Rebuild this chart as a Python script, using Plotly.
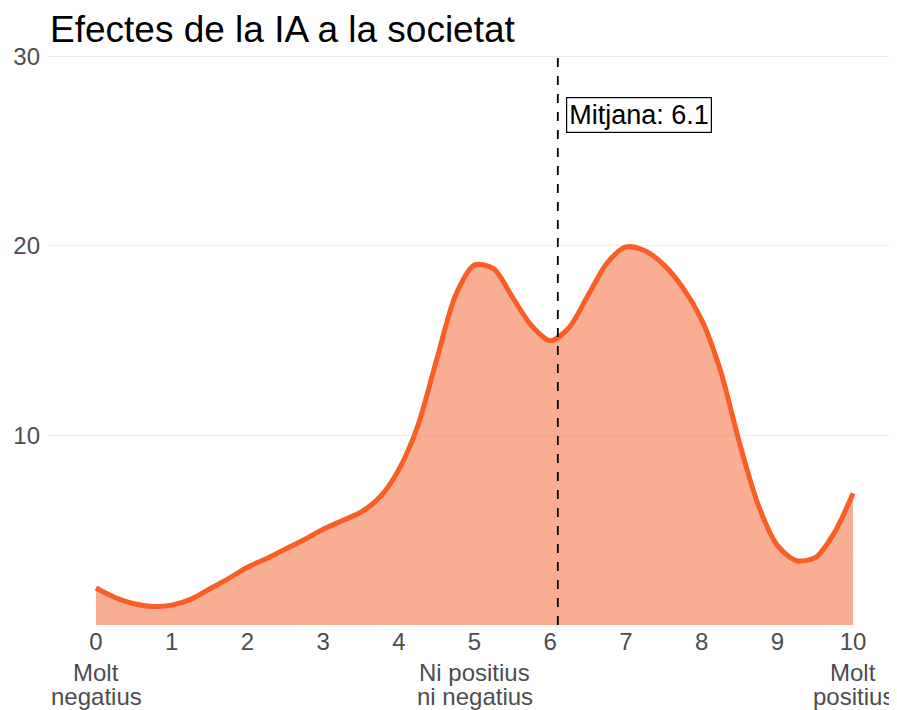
import plotly.graph_objects as go

title = "Efectes de la IA a la societat"
x_vals = [0, 0.25, 0.5, 0.75, 1, 1.25, 1.5, 1.75, 2, 2.25, 2.5, 2.75, 3, 3.25, 3.5, 3.75,
          4, 4.25, 4.5, 4.75, 5, 5.25, 5.5, 5.75, 6, 6.25, 6.5, 6.75, 7, 7.25, 7.5, 7.75,
          8, 8.25, 8.5, 8.75, 9, 9.25, 9.5, 9.75, 10]
y_vals = [1.95, 1.45, 1.12, 0.98, 1.05, 1.35, 1.9, 2.45, 3.05, 3.5, 4.0, 4.5, 5.05, 5.5, 5.95, 6.75,
          8.2, 10.5, 14.0, 17.4, 19.0, 18.8, 17.3, 15.8, 15.0, 15.7, 17.4, 19.1, 19.95, 19.75, 19.0, 17.8,
          16.1, 13.4, 9.6, 6.3, 4.2, 3.4, 3.55, 4.85, 6.95]
mean_val = 6.1
x_ticks = list(range(0, 11))
y_ticks = [10, 20, 30]
scale_labels = {0: ["Molt", "negatius"], 5: ["Ni positius", "ni negatius"], 10: ["Molt", "positius"]}

FONT = "Liberation Sans, Arial"
OFF = 8  # page body margin offset
W, H = 897, 710
L, R, T = 48 - OFF, OFF, 50 - OFF
bottom_f = 625 - OFF
B = H - bottom_f
plot_h = bottom_f - T

fig = go.Figure()
fig.add_trace(go.Scatter(
    x=x_vals, y=y_vals, mode="lines", line=dict(color="#F85E26", width=5, shape="spline", smoothing=0.8),
    fill="tozeroy", fillcolor="rgba(246,125,80,0.62)", hoverinfo="skip", showlegend=False))

fig.add_shape(type="line", x0=mean_val, x1=mean_val, y0=0, y1=30, xref="x", yref="y",
              line=dict(color="black", width=1.8, dash="dash"))

fig.add_annotation(x=6.21, y=26.9, xref="x", yref="y", xanchor="left", yanchor="middle",
                   text=f"Mitjana: {mean_val}", showarrow=False,
                   font=dict(family=FONT, size=27, color="black"),
                   bgcolor="white", bordercolor="black", borderwidth=1.2, borderpad=2)

line_py = [672 - OFF, 697 - OFF]
for k, lines in scale_labels.items():
    for txt, py in zip(lines, line_py):
        fig.add_annotation(x=k, y=-(py - bottom_f) / plot_h, xref="x", yref="paper", text=txt,
                           showarrow=False, xanchor="center", yanchor="middle",
                           font=dict(family=FONT, size=24, color="#4D4D4D"))

fig.update_layout(
    width=W, height=H,
    margin=dict(l=L, r=R, t=T, b=B),
    plot_bgcolor="white", paper_bgcolor="white",
    title=dict(text=title, x=(50 - OFF) / W, xanchor="left", y=1 - (29 - OFF) / H, yanchor="middle",
               font=dict(family=FONT, size=37, color="black")),
    xaxis=dict(range=[-0.634, 10.58], tickvals=x_ticks, ticktext=[str(t) for t in x_ticks],
               showgrid=False, zeroline=False, showline=False, ticks="", automargin=False,
               tickfont=dict(family=FONT, size=24, color="#4D4D4D")),
    yaxis=dict(range=[0, 30.34], tickvals=y_ticks, showgrid=True, gridcolor="#EBEBEB", gridwidth=1.2,
               zeroline=False, showline=False, ticks="", ticklabelstandoff=7, automargin=False,
               tickfont=dict(family=FONT, size=24, color="#4D4D4D")),
)
fig.write_html("out.html")
